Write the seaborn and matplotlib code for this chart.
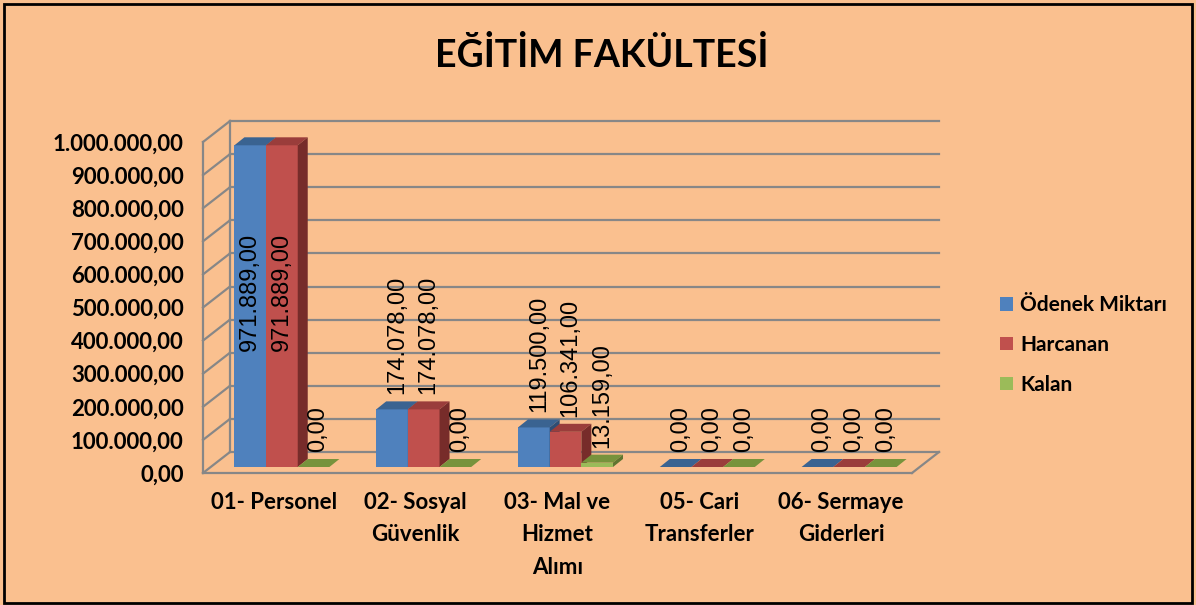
import matplotlib.pyplot as plt
import pandas as pd
import seaborn as sns
from matplotlib.patches import Patch, Polygon, Rectangle

# Data
kalemler = ['01- Personel', '02- Sosyal\nGüvenlik', '03- Mal ve\nHizmet\nAlımı',
            '05- Cari\nTransferler', '06- Sermaye\nGiderleri']
seriler = ['Ödenek Miktarı', 'Harcanan', 'Kalan']
odenek = [971889, 174078, 119500, 0, 0]
harcanan = [971889, 174078, 106341, 0, 0]
kalan = [0, 0, 13159, 0, 0]
y_ticks = list(range(0, 1000001, 100000))

renk_on = ['#4F81BD', '#C0504D', '#9BBB59']
renk_ust = ['#3A6391', '#9A3D3B', '#77933C']
renk_yan = ['#2E4E75', '#772C2A', '#5F7530']
bg = '#FAC08F'
grid_c = '#878787'


def tr_fmt(v):
    s = f'{v:,.2f}'
    return s.replace(',', 'X').replace('.', ',').replace('X', '.')


df = pd.DataFrame({
    'kalem': kalemler * 3,
    'seri': [s for s in seriler for _ in kalemler],
    'tutar': odenek + harcanan + kalan,
})

fig = plt.figure(figsize=(11.96, 6.05), dpi=100)
fig.patch.set_facecolor(bg)
W, H = 1196, 605
ax = fig.add_axes([203 / W, (H - 473) / H, 709 / W, 331 / H])
ax.set_facecolor('none')

sns.barplot(data=df, x='kalem', y='tutar', hue='seri', hue_order=seriler,
            palette=renk_on, saturation=1, width=0.67, errorbar=None,
            legend=False, ax=ax)
ax.set_xlim(-0.5, len(kalemler) - 0.5)
ax.set_ylim(0, 1000000)


def px(dx, dy):
    # pixel offset -> data offset
    x0, y0 = ax.transData.inverted().transform((0, 0))
    x1, y1 = ax.transData.inverted().transform((dx, dy))
    return x1 - x0, y1 - y0


wdx, wdy = px(27, 21)   # back wall depth
sx, sy = px(8, 6)       # bars sit behind the front plane
bdx, bdy = px(10, 8)    # bar depth
xl, xr = -0.5, len(kalemler) - 0.5

# walls and floor
kw = dict(color=grid_c, lw=1.6, clip_on=False, zorder=1)
for v in y_ticks:
    ax.plot([xl + wdx, xr + wdx], [v + wdy, v + wdy], **kw)
    ax.plot([xl, xl + wdx], [v, v + wdy], **kw)
ax.plot([xl, xl], [0, y_ticks[-1]], **kw)
ax.plot([xl + wdx, xl + wdx], [wdy, y_ticks[-1] + wdy], **kw)
ax.plot([xl, xr], [0, 0], **kw)
ax.plot([xr, xr + wdx], [0, wdy], **kw)

# 3D look for bars + labels
for i, cont in enumerate(ax.containers):
    for bar in cont:
        x0 = bar.get_x() + sx
        w = bar.get_width()
        h = bar.get_height()
        bar.set_x(x0)
        bar.set_y(sy)
        bar.set_clip_on(False)
        bar.set_edgecolor('none')
        bar.set_zorder(3 + i)
        b, t = sy, sy + h
        x1 = x0 + w
        ax.add_patch(Polygon([(x0, t), (x1, t), (x1 + bdx, t + bdy), (x0 + bdx, t + bdy)],
                             closed=True, fc=renk_ust[i], ec='none', clip_on=False, zorder=3 + i))
        ax.add_patch(Polygon([(x1, b), (x1, t), (x1 + bdx, t + bdy), (x1 + bdx, b + bdy)],
                             closed=True, fc=renk_yan[i], ec='none', clip_on=False, zorder=3 + i))
        lbl = tr_fmt(h)
        xc = x0 + w / 2
        if h > 500000:
            ax.annotate(lbl, (xc, t), xytext=(0, -88), textcoords='offset pixels',
                        rotation=90, ha='center', va='top', fontsize=17,
                        family='Liberation Sans', zorder=10)
        else:
            ax.annotate(lbl, (xc, t), xytext=(5, 15), textcoords='offset pixels',
                        rotation=90, ha='center', va='bottom', fontsize=17,
                        family='Liberation Sans', zorder=10)

# axes text
for s in ax.spines.values():
    s.set_visible(False)
ax.grid(False)
ax.set_xlabel('')
ax.set_ylabel('')
ax.set_yticks(y_ticks)
ax.set_yticklabels([tr_fmt(v) for v in y_ticks], fontsize=16, fontweight='bold', family='Lato')
ax.set_xticks(range(len(kalemler)))
ax.set_xticklabels(kalemler, fontsize=16, fontweight='bold', family='Lato', linespacing=1.65)
ax.tick_params(axis='y', length=0, pad=14)
ax.tick_params(axis='x', length=0, pad=14)

fig.text(0.503, (H - 55) / H, 'EĞİTİM FAKÜLTESİ', ha='center', va='center',
         fontsize=27, fontweight='bold', family='Lato')

handles = [Patch(facecolor=c, edgecolor='none') for c in renk_on]
fig.legend(handles, seriler, loc='center left', bbox_to_anchor=(1000 / W, (H - 345) / H),
           frameon=False, prop={'family': 'Lato', 'weight': 'bold', 'size': 15},
           handlelength=0.62, handleheight=0.62, handletextpad=0.34,
           labelspacing=0.95, borderpad=0, borderaxespad=0)

fig.add_artist(Rectangle((4 / W, 2 / H), (W - 8) / W, (H - 6) / H, transform=fig.transFigure,
                         fill=False, ec='black', lw=2))

fig.savefig('out.png', dpi=100, facecolor=bg)
